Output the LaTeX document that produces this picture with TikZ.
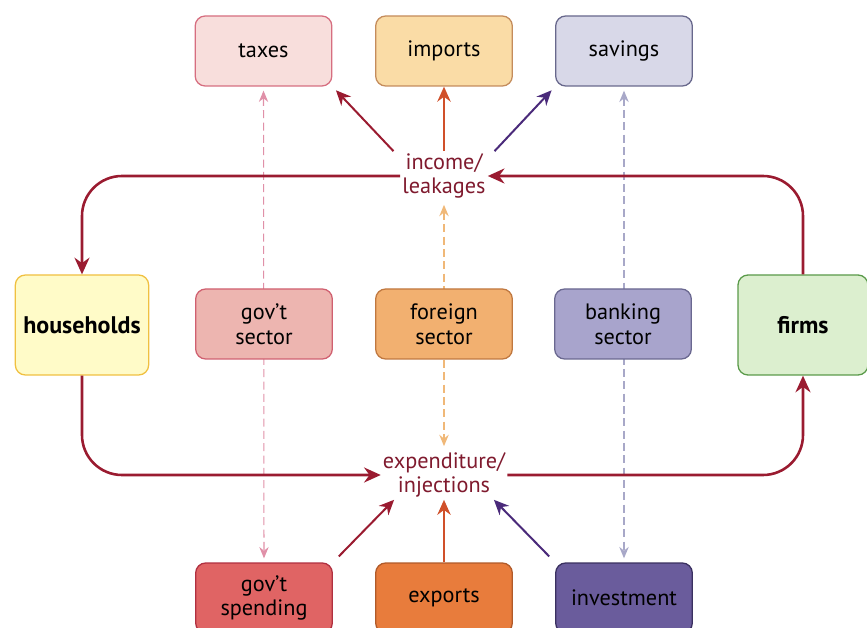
\documentclass[tikz,border=0pt]{standalone}
\usepackage{fontspec}
\setmainfont{PT Sans}
\usetikzlibrary{arrows.meta, backgrounds}

\definecolor{flowred}{HTML}{9A1B30}
\definecolor{labred}{HTML}{7F1A2E}
\definecolor{impline}{HTML}{D0502A}
\definecolor{savline}{HTML}{4A2A7A}
\definecolor{govdash}{HTML}{E090A8}
\definecolor{fordash}{HTML}{F0B878}
\definecolor{bankdash}{HTML}{A8A8C8}

\begin{document}
\begin{tikzpicture}[
    x = 0.3mm, y = -0.3mm,
    box/.style = {
      rectangle, draw, rounded corners = 3mm, line width = 1.1pt,
      minimum width = 41mm, minimum height = 21mm,
      align = center, font = \fontsize{19}{21}\selectfont
    },
    bigbox/.style = {
      box, minimum width = 40mm, minimum height = 30mm,
      font = \fontsize{20.5}{22}\selectfont\bfseries
    },
    lab/.style = {
      align = center, text = labred, inner sep = 0.6mm,
      font = \fontsize{19}{21}\selectfont
    },
    flow/.style = {-{Stealth[length=5mm, width=4.5mm]}, line width = 2.2pt,
      draw = flowred, rounded corners = 12mm},
    leak/.style = {-{Stealth[length=4.5mm, width=4mm]}, line width = 1.7pt},
    dash2/.style = {{Stealth[length=3.4mm, width=2.8mm]}-{Stealth[length=3.4mm, width=2.8mm]},
      dash pattern = on 2.4mm off 1.3mm, shorten <= 1.2mm, shorten >= 1.2mm}
  ]

  \useasboundingbox (0,0) rectangle (867,628);

  % ---- Fila superior: fugas ----
  \node[box, fill = {rgb,255:red,248;green,222;blue,220}, draw = {rgb,255:red,214;green,110;blue,128}]
    (taxes) at (263.5,51) {taxes};
  \node[box, fill = {rgb,255:red,250;green,220;blue,166}, draw = {rgb,255:red,196;green,140;blue,92}]
    (imports) at (444,51) {imports};
  \node[box, fill = {rgb,255:red,216;green,216;blue,232}, draw = {rgb,255:red,104;green,104;blue,140}]
    (savings) at (624,51) {savings};

  % ---- Fila central: sectores ----
  \node[bigbox, fill = {rgb,255:red,255;green,251;blue,200}, draw = {rgb,255:red,240;green,192;blue,64}]
    (house) at (82,325) {households};
  \node[box, fill = {rgb,255:red,237;green,181;blue,176}, draw = {rgb,255:red,208;green,96;blue,112}]
    (govsec) at (264,324) {gov’t\\sector};
  \node[box, fill = {rgb,255:red,242;green,176;blue,112}, draw = {rgb,255:red,192;green,120;blue,64}]
    (forsec) at (444,324) {foreign\\sector};
  \node[box, fill = {rgb,255:red,168;green,164;blue,204}, draw = {rgb,255:red,106;green,104;blue,144}]
    (banksec) at (623,324) {banking\\sector};
  \node[bigbox, minimum width = 39mm, fill = {rgb,255:red,220;green,239;blue,207}, draw = {rgb,255:red,90;green,154;blue,74}]
    (firms) at (803,325) {firms};

  % ---- Fila inferior: inyecciones ----
  \node[box, fill = {rgb,255:red,224;green,100;blue,100}, draw = {rgb,255:red,176;green,48;blue,64}]
    (govspend) at (264,598) {gov’t\\spending};
  \node[box, fill = {rgb,255:red,232;green,124;blue,60}, draw = {rgb,255:red,176;green,90;blue,42}]
    (exports) at (444,598) {exports};
  \node[box, fill = {rgb,255:red,106;green,92;blue,156}, draw = {rgb,255:red,58;green,48;blue,96}]
    (invest) at (624,598) {investment};

  % ---- Etiquetas del flujo ----
  \node[lab] (income) at (444,176) {income/\\leakages};
  \node[lab] (expend) at (444,475) {expenditure/\\injections};

  % ---- Flujo circular ----
  \draw[flow] (firms.north) |- (income.east);
  \draw[flow] (income.west) -| (house.north);
  \draw[flow] (house.south) |- (expend.west);
  \draw[flow] (expend.east) -| (firms.south);

  % ---- Fugas e inyecciones ----
  \draw[leak, draw = flowred, shorten >= 1.5mm] ([xshift=-2mm]income.north west) -- (taxes.south east);
  \draw[leak, draw = impline] (income.north) -- (imports.south);
  \draw[leak, draw = savline, shorten >= 1.5mm] ([xshift=2mm]income.north east) -- (savings.south west);
  \draw[leak, draw = flowred, shorten <= 2.5mm] (govspend.north east) -- ([xshift=4mm]expend.south west);
  \draw[leak, draw = impline] (exports.north) -- (expend.south);
  \draw[leak, draw = savline, shorten <= 2.5mm] (invest.north west) -- ([xshift=-4mm]expend.south east);

  % ---- Enlaces discontinuos (detras de los sectores) ----
  \begin{pgfonlayer}{background}
    \draw[dash2, draw = govdash, line width = 0.9pt] (taxes.south) -- (govspend.north);
    \draw[dash2, draw = fordash, line width = 1.3pt] (income.south) -- (expend.north);
    \draw[dash2, draw = bankdash, line width = 1.7pt] (savings.south) -- (invest.north);
  \end{pgfonlayer}

\end{tikzpicture}
\end{document}
